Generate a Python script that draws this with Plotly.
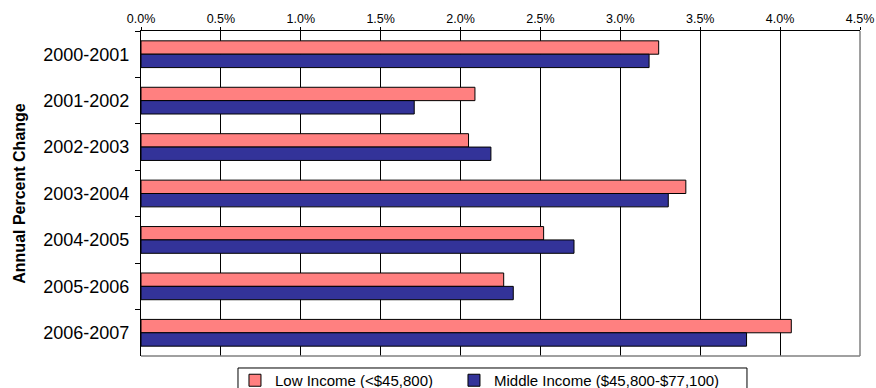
import plotly.graph_objects as go

# Annual percent change by income group
periods = ["2000-2001", "2001-2002", "2002-2003", "2003-2004",
           "2004-2005", "2005-2006", "2006-2007"]
low_income = [3.24, 2.09, 2.05, 3.41, 2.52, 2.27, 4.07]
middle_income = [3.18, 1.71, 2.19, 3.30, 2.71, 2.33, 3.79]
series_names = ["Low Income (<$45,800)", "Middle Income ($45,800-$77,100)"]
x_ticks = [0.0, 0.5, 1.0, 1.5, 2.0, 2.5, 3.0, 3.5, 4.0, 4.5]

FONT = "Liberation Sans, Arial, sans-serif"

fig = go.Figure()
fig.add_trace(go.Bar(
    y=periods, x=[v / 100 for v in low_income], orientation="h",
    name=series_names[0], legend="legend",
    marker=dict(color="#FF8080", line=dict(color="#000000", width=1)),
))
fig.add_trace(go.Bar(
    y=periods, x=[v / 100 for v in middle_income], orientation="h",
    name=series_names[1], legend="legend2",
    marker=dict(color="#333399", line=dict(color="#000000", width=1)),
))

legend_style = dict(
    orientation="h", xanchor="left", y=-0.0246, yanchor="top",
    borderwidth=0, bgcolor="rgba(0,0,0,0)",
    font=dict(size=15, family=FONT),
)

fig.update_layout(
    width=876, height=388,
    margin=dict(l=141, r=16, t=31, b=32, autoexpand=False),
    paper_bgcolor="white", plot_bgcolor="white",
    barmode="group", bargap=0.424, bargroupgap=0,
    font=dict(family=FONT, color="#000000"),
    showlegend=True,
    legend=dict(x=0.1307, **legend_style),
    legend2=dict(x=0.4353, **legend_style),
    xaxis=dict(
        side="top", range=[0, 0.045],
        tickvals=[t / 100 for t in x_ticks],
        ticktext=[f"{t:.1f}%" for t in x_ticks],
        tickfont=dict(size=12.5), ticklabelstandoff=-1,
        showgrid=True, gridcolor="#000000", gridwidth=1,
        showline=True, linecolor="#000000", linewidth=1,
        ticks="outside", ticklen=3, tickcolor="#000000",
        zeroline=False, fixedrange=True,
    ),
    yaxis=dict(
        autorange="reversed", type="category",
        tickfont=dict(size=18),
        showline=True, linecolor="#000000", linewidth=1,
        ticks="outside", ticklen=5, tickcolor="#000000",
        tickson="boundaries", ticklabelstandoff=7,
        showgrid=False, zeroline=False, fixedrange=True,
        title=dict(text="<b>Annual Percent Change</b>",
                   font=dict(size=16), standoff=13),
    ),
)

# Gray plot-area border on the right and bottom edges
for x0, y0, x1, y1 in [(1, 0, 1, 1), (0, 0, 1, 0)]:
    fig.add_shape(type="line", xref="paper", yref="paper",
                  x0=x0, y0=y0, x1=x1, y1=y1,
                  line=dict(color="#808080", width=1.5))

# Legend frame
fig.add_shape(type="rect", xref="paper", yref="paper",
              x0=0.1349, x1=0.8428, y0=-0.0369, y1=-0.15,
              line=dict(color="#000000", width=1), fillcolor="rgba(0,0,0,0)")

fig.write_html("out.html")
